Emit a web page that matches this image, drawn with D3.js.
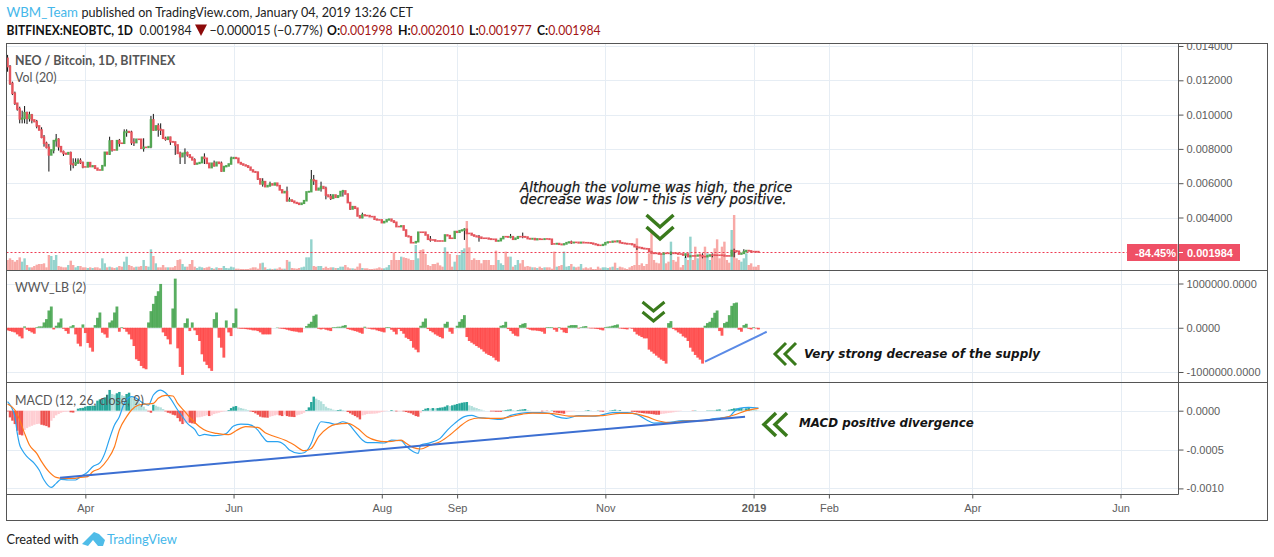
<!DOCTYPE html>
<html lang="en">
<head>
<meta charset="utf-8">
<title>NEO / Bitcoin</title>
<script src="https://d3js.org/d3.v7.min.js"></script>
<style>
html, body { margin: 0; padding: 0; background: #fff; overflow: hidden; }
svg { display: block; }
</style>
</head>
<body>
<script>
// one bar per day, starting here
var firstDay = Date.UTC(2018, 1, 28);

// closes, in 1e-5 BTC. each bar opens on the previous close
var firstOpen = 1328;
var closes = [1280,1182,1124,1066,1033,975,978,1011,978,998,969,959,934,910,868,833,809,765,794,848,856,813,784,774,770,778,712,708,720,732,720,695,695,720,697,701,687,677,677,702,780,770,846,794,794,848,833,833,897,901,897,837,837,856,856,804,809,809,813,969,910,934,914,910,862,856,868,842,840,823,774,755,774,778,765,751,736,712,716,720,751,745,716,691,716,702,722,716,671,697,701,712,745,749,745,720,712,706,701,693,677,667,664,625,596,609,580,586,596,590,600,586,561,545,551,498,502,495,487,483,477,483,498,549,551,619,615,561,570,580,570,531,522,512,531,518,526,551,555,537,487,450,463,454,409,399,415,411,411,405,405,390,386,386,370,376,386,390,380,372,347,347,
351,327,292,288,253,253,259,314,314,314,298,273,269,269,263,263,263,263,298,294,279,279,318,314,323,327,331,307,307,298,292,288,285,279,279,279,275,273,273,263,265,277,288,288,286,288,273,279,288,288,288,286,277,275,277,271,275,273,273,275,275,273,246,246,248,244,242,246,253,257,253,255,255,252,255,253,253,252,250,246,242,238,238,242,253,257,257,261,259,263,253,250,248,246,246,242,230,226,224,220,218,217,201,193,191,191,187,187,191,191,191,193,191,191,187,187,181,187,172,176,176,176,180,178,172,172,176,181,181,180,180,180,180,176,176,176,207,205,203,187,191,201,207,205,201,201,201,198.4];

// wicks that stick out of the body: bar number, high, low (1e-5 BTC)
var wickBars = [0,1,2,3,4,5,6,7,8,9,10,12,14,15,16,17,19,20,21,23,26,27,28,29,30,31,42,43,46,48,49,51,52,56,59,60,62,63,65,67,69,71,73,74,77,81,85,88,92,103,105,108,115,116,125,126,129,131,133,138,141,145,146,174,188,194,207,212,224,232,259,273,279,286,290,299,303];
var wickHighs = [1348,1289,1192,1134,1066,1046,1023,1050,1017,1017,1004,969,926,881,842,829,852,887,862,790,784,745,745,745,745,726,871,852,858,914,914,906,862,862,992,1004,949,949,871,871,842,784,803,784,745,774,732,726,755,667,629,609,580,517,677,648,609,580,537,561,483,415,428,292,337,298,304,312,269,265,234,201,187,191,191,218,215];
var wickLows = [1250,1173,1114,1056,1023,949,949,949,945,959,949,920,862,813,803,668,774,813,790,759,673,687,701,712,712,687,765,784,813,829,871,823,817,784,804,906,871,881,848,823,765,712,712,755,706,712,697,667,736,619,580,580,493,493,551,590,551,506,502,522,444,396,396,259,269,259,279,279,240,246,211,181,164,162,168,168,195];

// volume of each bar
var volumes = [30,35,30,25,30,38,25,35,15,8,8,12,16,18,18,20,8,45,42,30,45,12,10,8,8,15,28,15,8,12,12,8,8,6,8,6,8,8,5,35,20,8,10,8,6,8,12,10,25,40,15,12,8,10,10,12,30,12,10,62,42,20,8,8,15,8,8,8,8,12,30,32,18,10,10,18,30,10,6,10,8,6,8,10,6,4,8,6,6,12,6,5,10,8,4,4,3,3,3,3,5,8,8,4,20,22,8,3,4,3,4,4,8,4,4,30,25,6,5,4,6,8,10,38,38,92,12,10,12,12,6,10,6,8,8,6,6,10,10,15,8,5,5,4,10,20,6,5,5,3,3,4,5,8,5,5,8,15,30,52,30,30,
40,38,36,34,30,30,75,35,60,62,48,15,12,18,18,22,14,10,68,55,48,10,25,45,45,60,65,147,68,30,35,30,30,20,30,30,30,15,15,58,30,20,15,55,40,40,10,15,30,20,30,10,12,10,8,8,6,10,6,8,8,8,4,55,10,12,15,55,10,12,18,10,8,10,18,5,8,5,8,3,3,10,5,8,8,6,8,10,22,6,10,8,5,3,8,12,15,95,15,20,12,18,50,115,30,22,20,50,48,20,25,85,30,25,40,8,15,40,30,100,30,70,35,50,40,70,50,30,45,65,92,35,70,85,30,22,120,165,35,30,25,35,50,15,20,10,10,15];

// WWV_LB, in thousands
var wwv = [-60,-75,-90,-105,-150,-195,-240,30,-45,-75,-105,-135,15,30,30,120,195,390,480,-38,45,120,210,-23,-75,-135,30,60,-150,-360,-420,75,-120,-345,-450,-540,60,225,345,-113,-150,-225,120,165,345,480,-90,15,-30,-90,-150,-263,-413,-713,-750,-863,-915,-938,120,375,540,720,825,990,-105,-188,-263,-375,435,1110,-465,-885,-1065,105,210,-75,120,-60,-165,-300,-600,-765,-840,-915,-975,195,345,-225,-450,-675,165,-105,-188,105,435,-15,-23,-23,-30,-38,-45,-60,-60,-75,-105,-150,-150,-150,-150,0,0,8,-15,-23,-30,-45,-60,-75,-83,-90,-105,-105,0,38,90,135,270,300,-23,-38,-23,-45,-60,-75,15,15,23,23,45,60,-30,-45,-60,-75,-90,-113,-135,23,-15,-23,-38,-38,-60,-75,-90,-105,15,15,-45,-90,-150,-30,
-75,-135,-225,-255,-300,-450,-495,-555,45,135,210,-30,-75,-105,-150,-180,-210,-240,90,135,-90,-135,0,45,135,195,285,-210,-300,-338,-375,-413,-450,-488,-540,-585,-615,-638,-675,-735,-765,45,60,135,-30,-75,-135,-180,-195,60,90,105,-23,-45,-60,-60,-68,-75,-90,-135,15,15,15,-45,-90,15,-45,-105,-120,45,60,60,60,-15,15,30,38,-8,-15,-15,-23,-30,-45,-60,15,23,30,45,60,75,-15,-23,-30,-38,-8,-23,-90,-150,-180,-210,-240,-240,-495,-540,-585,-630,-675,-720,-750,-810,105,150,-30,-60,-105,-135,-195,-225,-300,-450,-540,-615,-675,-720,-810,45,105,135,225,338,390,-75,-180,105,135,285,495,555,570,-45,-90,60,90,-23,-38,15,-15,-38];

// MACD histogram, in 1e-6
var hist = [-9,-86,-129,-172,-258,-310,-318,-249,-224,-206,-194,-181,-172,-168,-181,-189,-198,-215,-129,-95,-60,-43,-26,-17,-13,-9,-21,-24,-4,26,34,37,52,60,62,64,66,129,146,150,172,206,267,215,206,224,241,198,189,215,232,172,155,129,108,77,52,17,-9,-26,77,65,52,43,21,-9,-26,-34,-52,-60,-95,-138,-172,-155,-146,-155,-163,-168,-86,-84,-77,-69,-60,-69,-60,-43,-34,-26,-17,-9,-4,9,34,52,60,43,34,26,17,9,-9,-17,-34,-52,-77,-86,-88,-90,-77,-69,-60,-52,-60,-69,-52,-69,-77,-79,-82,-60,-52,-43,-26,9,43,112,181,155,138,120,86,52,34,26,13,9,9,13,9,4,-17,-34,-52,-69,-86,-112,-60,-52,-43,-41,-39,-38,-34,-26,-17,-9,-4,0,9,4,-9,-8,
-6,-9,-17,-26,-34,-52,-69,-77,-26,9,26,34,26,34,30,34,39,43,52,69,60,69,77,86,95,103,108,112,69,60,43,34,21,13,4,0,0,-9,-9,-13,-13,-14,4,9,13,17,9,4,9,13,17,21,9,4,0,0,0,0,-9,-4,-4,0,4,-21,-26,-30,-34,-39,-21,-13,-9,-4,0,0,0,0,4,9,4,0,0,4,-9,-13,-9,0,4,9,13,9,9,0,0,0,0,-13,-17,-21,-26,-30,-34,-37,-39,-43,-47,-52,-52,-43,-39,-34,-30,-26,-21,-13,-9,-4,0,0,0,0,-4,4,0,0,0,0,4,4,4,4,13,17,4,0,4,13,21,30,30,30,34,26,30,34,26,17,13,4];

// MACD line at these bars, in 1e-6
var macdBars = [0,3,4,5,6,8,11,13,15,18,20,22,25,28,30,33,35,38,40,42,44,46,48,51,53,56,58,60,63,65,67,70,72,74,77,79,81,85,88,90,93,96,99,103,105,107,111,114,116,120,122,125,127,129,132,135,138,140,143,146,148,152,155,158,162,164,167,169,170,173,178,181,184,188,191,194,198,203,207,211,214,219,223,226,230,235,242,249,255,259,263,266,271,278,285,291,297,299,301,305,309];
var macdVals = [116,-77,-292,-442,-506,-592,-678,-764,-892,-987,-935,-884,-892,-892,-849,-789,-721,-669,-549,-356,-184,-77,94,180,159,94,73,202,266,232,159,9,-77,-163,-240,-322,-305,-322,-313,-292,-197,-172,-176,-249,-335,-399,-399,-442,-506,-549,-541,-420,-249,-142,-154,-176,-142,-163,-270,-378,-412,-412,-416,-378,-386,-455,-528,-549,-442,-420,-356,-249,-163,-77,-60,-90,-99,-112,-60,-34,-26,-26,-34,-77,-99,-64,-69,-26,-26,-47,-120,-159,-154,-129,-129,-103,-77,-13,30,43,34];

// signal line
var signalBars = [0,3,5,7,9,12,14,17,20,23,27,30,33,35,38,41,44,46,49,51,54,57,60,62,65,68,70,73,76,79,82,86,91,94,98,103,106,109,114,118,122,125,128,132,135,140,144,148,152,155,158,162,164,167,170,174,178,182,186,190,194,198,203,207,212,216,222,226,231,238,245,252,257,263,268,273,279,288,293,299,304,309];
var signalVals = [86,9,-120,-292,-442,-549,-656,-785,-858,-871,-871,-858,-849,-785,-742,-635,-463,-249,-77,9,73,86,94,159,197,189,94,-13,-120,-206,-262,-292,-309,-257,-206,-215,-283,-322,-378,-442,-515,-485,-335,-215,-176,-163,-227,-335,-386,-399,-395,-378,-420,-476,-493,-442,-399,-313,-206,-120,-94,-99,-99,-77,-43,-30,-34,-43,-69,-69,-64,-34,-34,-77,-133,-154,-133,-129,-103,-56,0,30];

// axis ticks
var timeTicks = [Date.UTC(2018,3,1),Date.UTC(2018,5,1),Date.UTC(2018,7,1),Date.UTC(2018,8,1),Date.UTC(2018,10,1),Date.UTC(2019,0,1),Date.UTC(2019,1,1),Date.UTC(2019,3,1),Date.UTC(2019,5,1)];
var timeLabels = ["Apr","Jun","Aug","Sep","Nov","2019","Feb","Apr","Jun"];
var priceTicks = [0.004,0.006,0.008,0.010,0.012,0.014];
var wwvTicks = [-1000,0,1000];
var macdTicks = [-1000,-500,0];

// the two drawn trend lines: bar number, value
var wwvTrendBars = [287,312.4], wwvTrendVals = [-764,-90];
var macdTrendBars = [21.6,303.5], macdTrendVals = [-863,-77];

var lastClose = 0.001984;
var lastChange = "-84.45%";

var W = 1274, H = 557;
var frameL = 6.5, frameR = 1267.5, axisX = 1178.5, frameT = 43.5, frameB = 520.5;
var sep1 = 270.5, sep2 = 382.5, timeY = 494.5;
var gridCol = "#e6edf4", lineCol = "#555555", labelCol = "#5d5d5d";
var axisFont = "'Liberation Sans', Arial, sans-serif";
var legendFont = "Lato, sans-serif";

var x = d3.scaleUtc().domain([Date.UTC(2018,2,1), Date.UTC(2019,5,1)]).range([10, 1120.5]);
var barX = function(i) { return x(firstDay + i * 864e5); };
var step = barX(1) - barX(0);

var yPrice = d3.scaleLinear().domain([0.004, 0.014]).range([217.5, 46]);
var yVol = d3.scaleLinear().domain([0, 165]).range([270, 215]);
var yWwv = d3.scaleLinear().domain([-1000, 1000]).range([372, 283.5]);
var yMacd = d3.scaleLinear().domain([-1000, 0]).range([488.4, 410.7]);

var svg = d3.select("body").append("svg").attr("width", W).attr("height", H);

var defs = svg.append("defs");
function addClip(id, y0, y1) {
	defs.append("clipPath").attr("id", id).append("rect")
		.attr("x", frameL).attr("y", y0).attr("width", axisX - frameL).attr("height", y1 - y0);
}
addClip("c1", frameT, sep1);
addClip("c2", sep1, sep2);
addClip("c3", sep2, timeY);
defs.append("clipPath").attr("id", "axisClip").append("rect")
	.attr("x", axisX).attr("y", frameT + 0.5).attr("width", frameR - axisX).attr("height", frameB - frameT);

// grid
var grid = svg.append("g").attr("stroke", gridCol).attr("stroke-width", 1);
timeTicks.forEach(function(t) {
	var px = Math.round(x(t)) + 0.5;
	grid.append("line").attr("x1", px).attr("x2", px).attr("y1", frameT).attr("y2", timeY);
});
function hGrid(ticks, scale) {
	ticks.forEach(function(v) {
		var py = Math.round(scale(v)) + 0.5;
		grid.append("line").attr("x1", frameL).attr("x2", axisX).attr("y1", py).attr("y2", py);
	});
}
hGrid(priceTicks, yPrice);
hGrid(wwvTicks, yWwv);
hGrid(macdTicks, yMacd);

// ---- price pane
var pricePane = svg.append("g").attr("clip-path", "url(#c1)");
var opens = closes.map(function(c, i) { return i == 0 ? firstOpen : closes[i - 1]; });

pricePane.append("g").selectAll("rect").data(volumes).enter().append("rect")
	.attr("x", function(d, i) { return barX(i) - step / 2; })
	.attr("width", step)
	.attr("y", function(d) { return yVol(d); })
	.attr("height", function(d) { return yVol(0) - yVol(d); })
	.attr("fill", function(d, i) { return closes[i] > opens[i] ? "#94d3cd" : "#f8a9a6"; });

var lastY = Math.round(yPrice(lastClose)) + 0.5;
pricePane.append("line").attr("x1", frameL).attr("x2", 1127).attr("y1", lastY).attr("y2", lastY)
	.attr("stroke", "#ef3a52").attr("stroke-width", 1).attr("stroke-dasharray", "2,2");

pricePane.append("g").selectAll("line").data(wickBars).enter().append("line")
	.attr("x1", function(d) { return barX(d); })
	.attr("x2", function(d) { return barX(d); })
	.attr("y1", function(d, i) { return yPrice(wickHighs[i] / 1e5); })
	.attr("y2", function(d, i) { return yPrice(wickLows[i] / 1e5); })
	.attr("stroke", "#111").attr("stroke-width", 1);

// bodies carry a border in the original, so they stand a bit proud of open and close
pricePane.append("g").selectAll("rect").data(closes).enter().append("rect")
	.attr("x", function(d, i) { return barX(i) - step / 2; })
	.attr("width", step)
	.attr("y", function(d, i) { return yPrice(Math.max(d, opens[i]) / 1e5) - 0.8; })
	.attr("height", function(d, i) { return Math.abs(yPrice(d / 1e5) - yPrice(opens[i] / 1e5)) + 1.6; })
	.attr("fill", function(d, i) { return d > opens[i] ? "#53a653" : "#e4555d"; });

// ---- WWV pane
var wwvPane = svg.append("g").attr("clip-path", "url(#c2)");
wwvPane.append("g").selectAll("rect").data(wwv).enter().append("rect")
	.attr("x", function(d, i) { return barX(i) - step / 2 - 0.2; })
	.attr("width", step + 0.4)
	.attr("y", function(d) { return yWwv(Math.max(d, 0)); })
	.attr("height", function(d) { return Math.abs(yWwv(d) - yWwv(0)); })
	.attr("fill", function(d) { return d >= 0 ? "#2f9a3a" : "#ff2f2f"; })
	.attr("fill-opacity", 0.8);
wwvPane.append("line")
	.attr("x1", barX(wwvTrendBars[0])).attr("y1", yWwv(wwvTrendVals[0]))
	.attr("x2", barX(wwvTrendBars[1])).attr("y2", yWwv(wwvTrendVals[1]))
	.attr("stroke", "#5a8ae6").attr("stroke-width", 2);

// ---- MACD pane
var macdPane = svg.append("g").attr("clip-path", "url(#c3)");
function histColor(d, i) {
	var prev = i == 0 ? 0 : hist[i - 1];
	if (d >= 0) return d >= prev ? "#26a69a" : "#b2dfdb";
	return d <= prev ? "#ef5350" : "#ffcdd2";
}
macdPane.append("g").selectAll("rect").data(hist).enter().append("rect")
	.attr("x", function(d, i) { return barX(i) - step / 2; })
	.attr("width", step)
	.attr("y", function(d) { return yMacd(Math.max(d, 0)); })
	.attr("height", function(d) { return Math.abs(yMacd(d) - yMacd(0)); })
	.attr("fill", histColor);

var macdLine = d3.line().curve(d3.curveMonotoneX)
	.x(function(d) { return barX(d[0]); })
	.y(function(d) { return yMacd(d[1]); });
macdPane.append("path").attr("d", macdLine(d3.zip(macdBars, macdVals)))
	.attr("fill", "none").attr("stroke", "#2aa3f0").attr("stroke-width", 1.2);
macdPane.append("path").attr("d", macdLine(d3.zip(signalBars, signalVals)))
	.attr("fill", "none").attr("stroke", "#ff7a1a").attr("stroke-width", 1.2);
macdPane.append("line")
	.attr("x1", barX(macdTrendBars[0])).attr("y1", yMacd(macdTrendVals[0]))
	.attr("x2", barX(macdTrendBars[1])).attr("y2", yMacd(macdTrendVals[1]))
	.attr("stroke", "#3c6fd2").attr("stroke-width", 2);

// frame and pane separators
var frame = svg.append("g").attr("stroke", lineCol).attr("stroke-width", 1).attr("fill", "none");
frame.append("rect").attr("x", frameL).attr("y", frameT).attr("width", frameR - frameL).attr("height", frameB - frameT);
frame.append("line").attr("x1", axisX).attr("x2", axisX).attr("y1", frameT).attr("y2", timeY);
frame.append("line").attr("x1", frameL).attr("x2", frameR).attr("y1", sep1).attr("y2", sep1);
frame.append("line").attr("x1", frameL).attr("x2", frameR).attr("y1", sep2).attr("y2", sep2);
frame.append("line").attr("x1", frameL).attr("x2", axisX).attr("y1", timeY).attr("y2", timeY);

// axes
function styleAxis(g) {
	g.select(".domain").remove();
	g.selectAll("line").attr("stroke", lineCol);
	g.selectAll("text").attr("fill", labelCol).attr("font-family", axisFont).attr("font-size", 11);
}
// top label is cut by the frame, so the clip sits on an outer group
svg.append("g").attr("clip-path", "url(#axisClip)")
	.append("g").attr("transform", "translate(" + axisX + ",0)")
	.call(d3.axisRight(yPrice).tickValues(priceTicks).tickSize(5).tickPadding(3).tickFormat(d3.format(".6f")))
	.call(styleAxis);
svg.append("g").attr("transform", "translate(" + axisX + ",0)")
	.call(d3.axisRight(yWwv).tickValues(wwvTicks).tickSize(5).tickPadding(3)
		.tickFormat(function(d) { return (d * 1000).toFixed(4); }))
	.call(styleAxis);
svg.append("g").attr("transform", "translate(" + axisX + ",0)")
	.call(d3.axisRight(yMacd).tickValues(macdTicks).tickSize(5).tickPadding(3)
		.tickFormat(function(d) { return (d / 1e6).toFixed(4); }))
	.call(styleAxis);
var timeAxis = svg.append("g").attr("transform", "translate(0," + timeY + ")")
	.call(d3.axisBottom(x).tickValues(timeTicks).tickSize(4).tickPadding(6)
		.tickFormat(function(d, i) { return timeLabels[i]; }))
	.call(styleAxis);
timeAxis.selectAll("text").attr("font-weight", function(d, i) { return timeLabels[i] == "2019" ? "bold" : null; });

// last price flags
var flagCol = "#ef5066";
svg.append("rect").attr("x", 1127).attr("y", 244).attr("width", 50.5).attr("height", 17).attr("fill", flagCol);
svg.append("rect").attr("x", 1179).attr("y", 244).attr("width", 61).attr("height", 17).attr("fill", flagCol);
svg.append("line").attr("x1", 1179).attr("x2", 1183).attr("y1", lastY).attr("y2", lastY).attr("stroke", "#fff");
svg.append("text").text(lastChange).attr("x", 1135).attr("y", 256.5).attr("fill", "#fff")
	.attr("font-family", axisFont).attr("font-size", 11).attr("font-weight", "bold");
svg.append("text").text(d3.format(".6f")(lastClose)).attr("x", 1187).attr("y", 256.5).attr("fill", "#fff")
	.attr("font-family", axisFont).attr("font-size", 11).attr("font-weight", "bold");

// pane legends
function legend(txt, y, weight) {
	svg.append("text").text(txt).attr("x", 15).attr("y", y).attr("fill", "#555")
		.attr("font-family", legendFont).attr("font-size", 12.4).attr("font-weight", weight);
}
legend("NEO / Bitcoin, 1D, BITFINEX", 65, "bold");
legend("Vol (20)", 82, "normal");
legend("WWV_LB (2)", 292, "normal");
legend("MACD (12, 26, close, 9)", 405, "normal");

// chevrons drawn on the chart
var chevCol = "#3a7a1c";
function chevrons(cx, cy, w, h, gap, sw, dir) {
	var g = svg.append("g").attr("fill", "none").attr("stroke", chevCol).attr("stroke-width", sw);
	[0, 1].forEach(function(k) {
		var d;
		if (dir == "down") {
			var ty = cy + k * gap;
			d = "M" + (cx - w / 2) + "," + ty + "L" + cx + "," + (ty + h) + "L" + (cx + w / 2) + "," + ty;
		} else {
			var tx = cx + k * gap;
			d = "M" + (tx + h) + "," + (cy - w / 2) + "L" + tx + "," + cy + "L" + (tx + h) + "," + (cy + w / 2);
		}
		g.append("path").attr("d", d);
	});
}
chevrons(660, 215, 27, 12, 12, 3.5, "down");
chevrons(653.5, 302, 22, 9, 10, 3, "down");
chevrons(775, 354, 22, 11, 10, 3, "left");
chevrons(764, 424.5, 23, 12, 11, 3.5, "left");

// annotations
function note(txt, xp, yp, size, weight) {
	return svg.append("text").text(txt).attr("x", xp).attr("y", yp).attr("fill", "#141414")
		.attr("font-family", "'DejaVu Sans', Verdana, sans-serif").attr("font-style", "italic")
		.attr("font-size", size).attr("font-weight", weight);
}
note("Although the volume was high, the price", 520, 192, 13.4, "normal").attr("stroke", "#141414").attr("stroke-width", 0.25);
note("decrease was low - this is very positive.", 520, 203.5, 13.4, "normal").attr("stroke", "#141414").attr("stroke-width", 0.25);
note("Very strong decrease of the supply", 804, 358, 11.95, "bold");
note("MACD positive divergence", 799, 427, 11.85, "bold");

// header, squeezed to the widths in the original
function hdr(txt, xp, yp, wid, col, weight) {
	return svg.append("text").text(txt).attr("x", xp).attr("y", yp).attr("fill", col)
		.attr("font-family", "Lato, sans-serif").attr("font-size", 13.5).attr("font-weight", weight)
		.attr("textLength", wid).attr("lengthAdjust", "spacingAndGlyphs");
}
hdr("WBM_Team", 6.5, 17, 71.5, "#45b7ea", "normal");
hdr("published on TradingView.com, January 04, 2019 13:26 CET", 81.5, 17, 331.5, "#222", "normal");
hdr("BITFINEX:NEOBTC, 1D", 6.5, 34.5, 126.5, "#111", "bold");
hdr("0.001984", 139.5, 34.5, 52, "#222", "normal");
svg.append("path").attr("d", "M195,24.5L207,24.5L201,36Z").attr("fill", "#8c0a0a");
hdr("\u22120.000015 (\u22120.77%)", 209.5, 34.5, 113, "#222", "normal");
var ohlcLabels = ["O:","H:","L:","C:"];
var ohlcValues = ["0.001998","0.002010","0.001977","0.001984"];
var ohlcX = [327,398,469,537];
var ohlcEnd = [392.7,464,531.7,600.7];
ohlcLabels.forEach(function(l, i) {
	var t = hdr("", ohlcX[i], 34.5, ohlcEnd[i] - ohlcX[i], "#a31414", "normal");
	t.append("tspan").text(l).attr("fill", "#111").attr("font-weight", "bold");
	t.append("tspan").text(ohlcValues[i]);
});

// footer
hdr("Created with", 6.5, 544, 72, "#222", "normal");
svg.append("path").attr("d", "M82,544L90,536L94,532L99,534L105,540L103,546L98,546L93,540L88,546Z").attr("fill", "#4fbce8");
hdr("TradingView", 107, 544, 70, "#45b7ea", "normal");
</script>
</body>
</html>
